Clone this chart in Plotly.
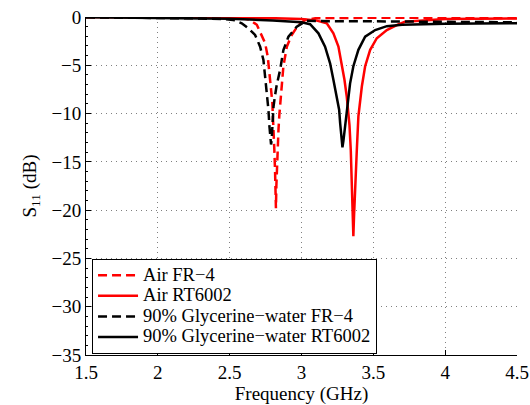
import plotly.graph_objects as go

# S11 (GHz, dB)
air_fr4_f = [1.5, 2.0, 2.3, 2.5, 2.6, 2.64, 2.689, 2.723, 2.747, 2.765, 2.776, 2.786,
             2.797, 2.804, 2.811, 2.816, 2.819, 2.822, 2.825, 2.829, 2.835, 2.840, 2.846,
             2.853, 2.863, 2.874, 2.898, 2.932, 2.978, 3.025, 3.1, 3.3, 3.6, 4.0, 4.5]
air_fr4_db = [-0.02, -0.03, -0.05, -0.08, -0.15, -0.3, -0.8, -1.86, -2.72, -4.1, -5.49, -7.2,
              -8.9, -10.8, -13.8, -16.0, -18.0, -19.8, -17.5, -15.2, -13.2, -11.6, -10.1,
              -8.8, -7.2, -5.1, -3.07, -1.86, -0.83, -0.3, -0.12, -0.07, -0.07, -0.08, -0.1]

air_rt_f = [1.5, 2.0, 2.5, 2.8, 3.0, 3.1, 3.176, 3.222, 3.257, 3.28, 3.299, 3.315, 3.325,
            3.334, 3.343, 3.35, 3.356, 3.361, 3.366, 3.373, 3.385, 3.396, 3.408, 3.42,
            3.443, 3.478, 3.524, 3.594, 3.67, 3.72, 4.0, 4.5]
air_rt_db = [-0.01, -0.03, -0.06, -0.12, -0.22, -0.35, -0.65, -1.69, -3.07, -4.8, -6.5, -8.25, -9.8,
             -11.2, -13.8, -17.0, -20.5, -22.7, -20.5, -17.5, -13.8, -10.3, -8.6, -7.2,
             -5.1, -3.4, -2.2, -1.35, -0.8, -0.5, -0.22, -0.15]

gly_fr4_f = [1.5, 2.0, 2.3, 2.45, 2.524, 2.584, 2.63, 2.677, 2.712, 2.735, 2.747, 2.758,
             2.770, 2.776, 2.783, 2.788, 2.792, 2.796, 2.805, 2.815, 2.828, 2.851, 2.874,
             2.909, 2.967, 3.037, 3.1, 3.5, 4.0, 4.5]
gly_fr4_db = [-0.03, -0.08, -0.15, -0.22, -0.3, -0.65, -1.17, -1.86, -3.07, -4.45, -6.18, -8.25,
              -9.63, -11.18, -12.6, -13.2, -12.8, -11.2, -9.3, -8.2, -7.0, -5.49, -3.42,
              -2.04, -1.0, -0.38, -0.42, -0.45, -0.5, -0.55]

gly_rt_f = [1.5, 2.0, 2.5, 2.8, 3.0, 3.06, 3.118, 3.164, 3.199, 3.222, 3.246, 3.262, 3.269,
            3.278, 3.285, 3.292, 3.304, 3.313, 3.322, 3.338, 3.361, 3.396, 3.443, 3.513,
            3.594, 3.7, 4.0, 4.5]
gly_rt_db = [-0.03, -0.08, -0.18, -0.35, -0.55, -0.75, -1.69, -3.07, -4.8, -6.5, -8.25, -9.6, -11.0,
             -12.8, -13.5, -12.8, -11.35, -9.8, -8.6, -6.9, -5.1, -3.4, -2.04, -1.35,
             -0.95, -0.8, -0.7, -0.65]

names = ["Air FR\u22124", "Air RT6002",
         "90% Glycerine\u2212water FR\u22124", "90% Glycerine\u2212water RT6002"]
colors = ["#ff0000", "#ff0000", "#000000", "#000000"]
dashes = ["9px,5px", "solid", "9px,5px", "solid"]
freqs = [air_fr4_f, air_rt_f, gly_fr4_f, gly_rt_f]
vals = [air_fr4_db, air_rt_db, gly_fr4_db, gly_rt_db]

font = "Liberation Serif, Times New Roman, serif"

fig = go.Figure()
for name, f, db, col, dash in zip(names, freqs, vals, colors, dashes):
    # bigger text than the legend font so the rows stay tight like matlab
    fig.add_scatter(x=f, y=db, mode="lines",
                    name='<span style="font-size:18.5px">' + name + '</span>',
                    line=dict(color=col, width=2.5, dash=dash))

axis_common = dict(showline=True, linecolor="black", linewidth=1, mirror=False,
                   ticks="inside", ticklen=5, tickcolor="black", automargin=False,
                   showgrid=True, gridcolor="#808080", griddash="1px,4px", gridwidth=1,
                   zeroline=False, tickfont=dict(size=19, color="black"))

fig.update_xaxes(range=[1.5, 4.5], tick0=1.5, dtick=0.5,
                 title=dict(text="Frequency (GHz)", font=dict(size=19), standoff=6),
                 **axis_common)
fig.update_yaxes(range=[-35, 0], dtick=5,
                 minor=dict(ticks="inside", ticklen=2, dtick=1, tickcolor="black", showgrid=False),
                 title=dict(text="S<sub>11</sub> (dB)", font=dict(size=19), standoff=9),
                 **axis_common)

fig.update_layout(
    width=530, height=405,
    margin=dict(l=86, r=13, t=17, b=50),
    plot_bgcolor="white", paper_bgcolor="white",
    font=dict(family=font, color="black", size=17),
    legend=dict(x=0.014, y=0.284, xanchor="left", yanchor="top",
                bgcolor="white", bordercolor="black", borderwidth=1,
                font=dict(size=13.5), itemwidth=40, tracegroupgap=0),
    showlegend=True,
)

fig.write_html("out.html", config={"displayModeBar": False},
               post_script="document.body.style.margin='0';")
